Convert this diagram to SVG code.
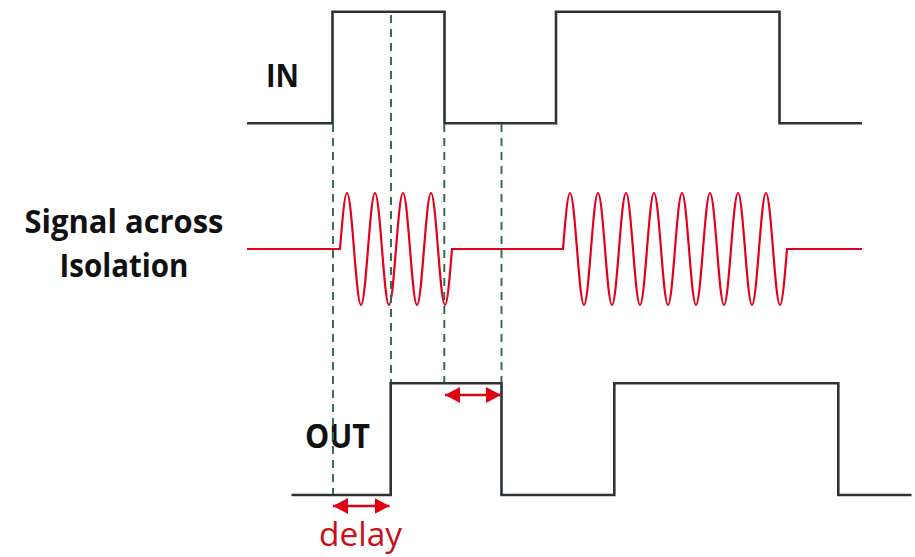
<svg xmlns="http://www.w3.org/2000/svg" width="915" height="557" viewBox="0 0 915 557">
  <style>
    .sig { fill: none; stroke: #2b3238; stroke-width: 2.6; stroke-linejoin: miter; }
    .wave { fill: none; stroke: #e3001b; stroke-width: 2.2; }
    .dash { stroke: #2e6a46; stroke-width: 1.9; stroke-dasharray: 8 6; fill: none; }
    .arrow { stroke: #e00012; stroke-width: 2.6; fill: none; marker-start: url(#ah); marker-end: url(#ah); }
    .lbl { font-family: "Open Sans", "Liberation Sans", sans-serif; font-weight: bold; fill: #111; }
    .delay { font-family: "Open Sans", "Liberation Sans", sans-serif; fill: #cc0d1a; font-size: 32px; }
  </style>
  <defs>
    <marker id="ah" viewBox="0 0 15 16" refX="15" refY="8" markerWidth="15" markerHeight="16" markerUnits="userSpaceOnUse" orient="auto-start-reverse">
      <path d="M0,0 L15,8 L0,16 Z" fill="#e00012"/>
    </marker>
  </defs>
  <rect width="915" height="557" fill="#ffffff"/>

  <g id="in-label"><text class="lbl" x="266" y="87" font-size="33" textLength="33" lengthAdjust="spacingAndGlyphs">IN</text></g>
  <g id="in-signal">
    <path class="sig" d="M247,123.3 H332.5 V11.7 H444.5 V123.3 H556 V11.7 H779.5 V123.3 H862"/>
  </g>

  <g id="isolation-label">
    <text class="lbl" x="124" y="233" font-size="32" text-anchor="middle" textLength="199" lengthAdjust="spacingAndGlyphs">Signal across</text>
    <text class="lbl" x="124" y="277" font-size="32" text-anchor="middle" textLength="129" lengthAdjust="spacingAndGlyphs">Isolation</text>
  </g>
  <g id="isolation-signal">
    <path class="wave" d="M247,249 H340 c2.33,-29.3 4.67,-56 7,-56
      c5.09,0 8.91,112 14,112 s8.91,-112 14,-112 s8.91,112 14,112 s8.91,-112 14,-112 s8.91,112 14,112 s8.91,-112 14,-112 s8.91,112 14,112
      c2.33,0 4.67,-26.7 7,-56
      H563 c2.33,-29.3 4.67,-56 7,-56
      c5.09,0 8.91,112 14,112 s8.91,-112 14,-112 s8.91,112 14,112 s8.91,-112 14,-112 s8.91,112 14,112 s8.91,-112 14,-112 s8.91,112 14,112 s8.91,-112 14,-112
      s8.91,112 14,112 s8.91,-112 14,-112 s8.91,112 14,112 s8.91,-112 14,-112 s8.91,112 14,112 s8.91,-112 14,-112 s8.91,112 14,112
      c2.33,0 4.67,-26.7 7,-56
      H862"/>
  </g>

  <g id="out-label"><text class="lbl" x="305" y="448" font-size="34" textLength="65" lengthAdjust="spacingAndGlyphs">OUT</text></g>
  <g id="out-signal">
    <path class="sig" d="M291.5,495 H390.7 V383.3 H501.5 V495 H614.3 V383.3 H838.3 V495 H911.5"/>
  </g>

  <g id="connectors">
    <line class="dash" x1="333" y1="124" x2="333" y2="494"/>
    <line class="dash" x1="391" y1="15" x2="391" y2="382"/>
    <line class="dash" x1="444.3" y1="124" x2="444.3" y2="382"/>
    <line class="dash" x1="501.5" y1="124" x2="501.5" y2="382"/>
    <line class="arrow" x1="445" y1="395" x2="501" y2="395"/>
    <line class="arrow" x1="333" y1="506" x2="389.5" y2="506"/>
  </g>

  <g id="delay-label"><text class="delay" x="319" y="546" textLength="83" lengthAdjust="spacingAndGlyphs">delay</text></g>
</svg>
